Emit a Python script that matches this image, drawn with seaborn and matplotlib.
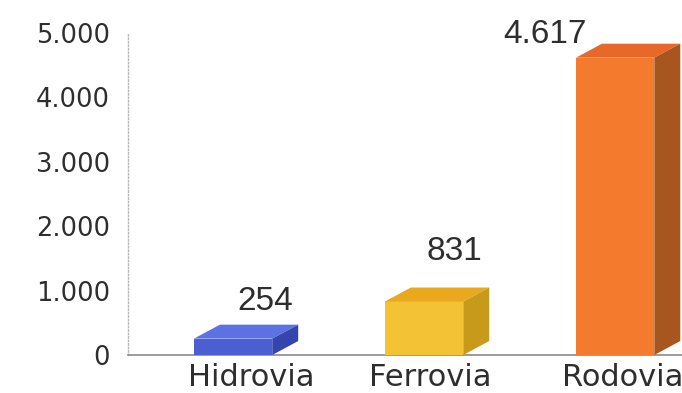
import matplotlib
matplotlib.use("Agg")
import matplotlib.pyplot as plt
import seaborn as sns
import pandas as pd
from matplotlib.patches import Polygon
from matplotlib.ticker import FuncFormatter, FixedLocator

categories = ["Hidrovia", "Ferrovia", "Rodovia"]
values = [254, 831, 4617]
value_labels = ["254", "831", "4.617"]
front_colors = ["#4b5fd3", "#f4c235", "#f47a2e"]
top_colors = ["#5d72e2", "#eaa81c", "#e8682a"]
side_colors = ["#3445ad", "#c79a1c", "#a8561f"]

sns.set_theme(style="white")
plt.rcParams['font.family'] = ['DejaVu Sans']

df = pd.DataFrame({"cat": categories, "val": values})

fig = plt.figure(figsize=(6.82, 3.93), dpi=100)
ax = fig.add_axes([128/682, 38/393, 1 - 128/682, 322/393])

sns.barplot(data=df, x="cat", y="val", hue="cat", palette=front_colors,
            width=0.41, legend=False, ax=ax, saturation=1, zorder=3)

ax.set_ylim(0, 5000)
ax.set_xlim(-0.55, 2.35)

dx, dy = 0.136, 217
for i, p in enumerate(ax.patches[:3]):
    p.set_edgecolor("none")
    x0, w, h = p.get_x(), p.get_width(), p.get_height()
    top = Polygon([(x0, h), (x0 + w, h), (x0 + w + dx, h + dy), (x0 + dx, h + dy)],
                  closed=True, facecolor=top_colors[i], edgecolor="none",
                  zorder=3, clip_on=False)
    side = Polygon([(x0 + w, 0), (x0 + w + dx, dy), (x0 + w + dx, h + dy), (x0 + w, h)],
                   closed=True, facecolor=side_colors[i], edgecolor="none",
                   zorder=3, clip_on=False)
    ax.add_patch(top)
    ax.add_patch(side)

# value labels
label_pos = [(0.17, 254 + 445), (1.16, 831 + 644), (1.631, 4617 + 228)]
for (lx, ly), txt in zip(label_pos, value_labels):
    ax.text(lx, ly, txt, ha="center", va="baseline", fontsize=24,
            family="Liberation Sans", color="#2e2e2e", clip_on=False)

ax.set_xticks([0.094, 1.03, 2.04])
ax.set_xticklabels(categories, fontsize=22, color="#2e2e2e")
ax.set_yticks([0, 1000, 2000, 3000, 4000, 5000])
ax.yaxis.set_major_formatter(FuncFormatter(lambda v, _: f"{int(v):,}".replace(",", ".")))
ax.yaxis.set_minor_locator(FixedLocator([5000]))
ax.tick_params(axis="y", which="major", labelsize=18.5, colors="#2e2e2e", length=0, pad=13)
ax.tick_params(axis="y", which="minor", length=5, width=1, color="#b8b8b8", left=True)
ax.tick_params(axis="x", length=0, pad=6)
ax.set_xlabel("")
ax.set_ylabel("")

for s in ["top", "right"]:
    ax.spines[s].set_visible(False)
ax.spines["left"].set_color("#b8b8b8")
ax.spines["left"].set_linestyle((0, (1, 1.5)))
ax.spines["left"].set_linewidth(1)
ax.spines["bottom"].set_color("#8a8a8a")
ax.spines["bottom"].set_linestyle((0, (2, 1)))
ax.spines["bottom"].set_linewidth(1.2)
ax.grid(False)

fig.savefig("out.png", dpi=100)
